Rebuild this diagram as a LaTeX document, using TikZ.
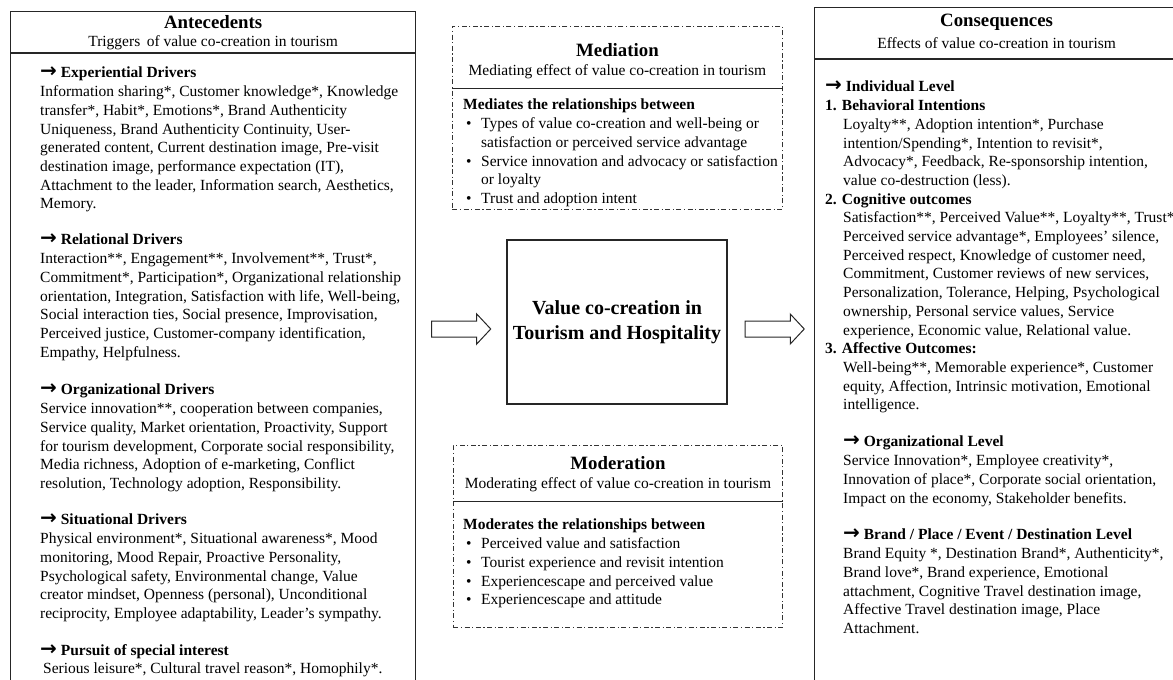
\documentclass[tikz,border=0pt]{standalone}
\usepackage{fontspec}
\setmainfont{Liberation Serif}
\newfontfamily\arrowfont{DejaVu Sans}
\usetikzlibrary{shapes.arrows, positioning}

\newcommand{\hdarrow}{{\arrowfont\bfseries\fontsize{20}{18.7}\selectfont →}}
\newcommand{\bulitem}{\makebox[18pt][l]{\hspace{3pt}•}}
\newcommand{\indentb}{\hspace*{18pt}}
\newcommand{\indentln}{\hspace*{18pt}}

\begin{document}
\begin{tikzpicture}[x=1pt, y=-1pt,
    panel/.style={draw=black!85, line width=1.2pt, inner sep=0, anchor=north west},
    divider/.style={draw=black!85, line width=1.2pt},
    effect/.style={draw=black!80, line width=0.9pt, dash pattern=on 5pt off 2.5pt on 1.2pt off 2.5pt, inner sep=0, anchor=north west},
    ttl/.style={font=\fontsize{18.8}{21}\selectfont\bfseries, inner sep=0},
    subttl/.style={font=\fontsize{15.5}{18.7}\selectfont, inner sep=0},
    txt/.style={font=\fontsize{15.5}{18.7}\selectfont, align=left, anchor=north west, inner sep=0},
    core/.style={draw=black!85, line width=1.2pt, minimum width=220pt, minimum height=164pt, align=center, font=\fontsize{20}{25}\selectfont\bfseries},
    bigarrow/.style={single arrow, draw=black!85, line width=1pt, single arrow head extend=7pt, single arrow tip angle=94, single arrow head indent=0pt, minimum height=59pt, inner xsep=0pt, inner ysep=7.5pt, text height=0pt, text depth=0pt}]

\useasboundingbox (0,0) rectangle (1173,680);
\clip (0,0) rectangle (1173,680);

% Left panel: antecedents
\node[panel, minimum width=405pt, minimum height=700pt] (ante) at (10,11) {};
\node[ttl] (ante-t) at ([yshift=-11pt]ante.north) {Antecedents};
\node[subttl] (ante-s) at ([yshift=-32pt]ante.north) {Triggers\, of value co-creation in tourism};
\draw[divider] ([yshift=-42pt]ante.north west) -- ([yshift=-42pt]ante.north east);

\node[txt] (exp) at (40,67) {\textbf{\hdarrow\ Experiential Drivers}\\
Information sharing*, Customer knowledge*, Knowledge\\
transfer*, Habit*, Emotions*, Brand Authenticity\\
Uniqueness, Brand Authenticity Continuity, User-\\
generated content, Current destination image, Pre-visit\\
destination image, performance expectation (IT),\\
Attachment to the leader, Information search, Aesthetics,\\
Memory.};

\node[txt] (rel) at (40,234) {\textbf{\hdarrow\ Relational Drivers}\\
Interaction**, Engagement**, Involvement**, Trust*,\\
Commitment*, Participation*, Organizational relationship\\
orientation, Integration, Satisfaction with life, Well-being,\\
Social interaction ties, Social presence, Improvisation,\\
Perceived justice, Customer-company identification,\\
Empathy, Helpfulness.};

\node[txt] (org) at (40,384) {\textbf{\hdarrow\ Organizational Drivers}\\
Service innovation**, cooperation between companies,\\
Service quality, Market orientation, Proactivity, Support\\
for tourism development, Corporate social responsibility,\\
Media richness, Adoption of e-marketing, Conflict\\
resolution, Technology adoption, Responsibility.};

\node[txt] (sit) at (40,514) {\textbf{\hdarrow\ Situational Drivers}\\
Physical environment*, Situational awareness*, Mood\\
monitoring, Mood Repair, Proactive Personality,\\
Psychological safety, Environmental change, Value\\
creator mindset, Openness (personal), Unconditional\\
reciprocity, Employee adaptability, Leader's sympathy.};

\node[txt] (pur) at (40,644) {\textbf{\hdarrow\ Pursuit of special interest}\\
\hspace*{3pt}Serious leisure*, Cultural travel reason*, Homophily*.};

% Middle: mediation, core, moderation
\node[effect, minimum width=330pt, minimum height=183pt] (medi) at (452,26) {};
\node[ttl] (medi-t) at ([yshift=-24pt]medi.north) {Mediation};
\node[subttl] (medi-s) at ([yshift=-46pt]medi.north) {Mediating effect of value co-creation in tourism};
\draw[divider, line width=1pt] ([yshift=-62pt]medi.north west) -- ([yshift=-62pt]medi.north east);
\node[txt] (medi-x) at (463,99) {\textbf{Mediates the relationships between}\\
\bulitem Types of value co-creation and well-being or\\
\indentb satisfaction or perceived service advantage\\
\bulitem Service innovation and advocacy or satisfaction\\
\indentb or loyalty\\
\bulitem Trust and adoption intent};

\node[core] (vcc) at (617,322) {Value co-creation in\\Tourism and Hospitality};

\node[effect, minimum width=329pt, minimum height=182pt] (moder) at (453,445) {};
\node[ttl] (moder-t) at ([yshift=-18pt]moder.north) {Moderation};
\node[subttl] (moder-s) at ([yshift=-40pt]moder.north) {Moderating effect of value co-creation in tourism};
\draw[divider, line width=1pt] ([yshift=-56pt]moder.north west) -- ([yshift=-56pt]moder.north east);
\node[txt] (moder-x) at (463,519) {\textbf{Moderates the relationships between}\\
\bulitem Perceived value and satisfaction\\
\bulitem Tourist experience and revisit intention\\
\bulitem Experiencescape and perceived value\\
\bulitem Experiencescape and attitude};

% Block arrows
\node[bigarrow] (arr-in) at (457.5,329) {};
\node[bigarrow] (arr-out) at (771,329) {};

% Right panel: consequences
\node[panel, minimum width=364pt, minimum height=700pt] (conseq) at (814,7) {};
\node[ttl] (conseq-t) at ([yshift=-15pt]conseq.north) {Consequences};
\node[subttl] (conseq-s) at ([yshift=-36pt]conseq.north) {Effects of value co-creation in tourism};
\draw[divider] ([yshift=-52pt]conseq.north west) -- ([yshift=-52pt]conseq.north east);

\node[txt] (ind) at (825,81) {\textbf{\hdarrow\ Individual Level}\\
\textbf{1. Behavioral Intentions}\\
\indentln Loyalty**, Adoption intention*, Purchase\\
\indentln intention/Spending*, Intention to revisit*,\\
\indentln Advocacy*, Feedback, Re-sponsorship intention,\\
\indentln value co-destruction (less).\\
\textbf{2. Cognitive outcomes}\\
\indentln Satisfaction**, Perceived Value**, Loyalty**, Trust*\\
\indentln Perceived service advantage*, Employees' silence,\\
\indentln Perceived respect, Knowledge of customer need,\\
\indentln Commitment, Customer reviews of new services,\\
\indentln Personalization, Tolerance, Helping, Psychological\\
\indentln ownership, Personal service values, Service\\
\indentln experience, Economic value, Relational value.\\
\textbf{3. Affective Outcomes:}\\
\indentln Well-being**, Memorable experience*, Customer\\
\indentln equity, Affection, Intrinsic motivation, Emotional\\
\indentln intelligence.};

\node[txt] (orgl) at (843,436) {\textbf{\hdarrow\ Organizational Level}\\
Service Innovation*, Employee creativity*,\\
Innovation of place*, Corporate social orientation,\\
Impact on the economy, Stakeholder benefits.};

\node[txt] (brand) at (843,529) {\textbf{\hdarrow\ Brand / Place / Event / Destination Level}\\
Brand Equity *, Destination Brand*, Authenticity*,\\
Brand love*, Brand experience, Emotional\\
attachment, Cognitive Travel destination image,\\
Affective Travel destination image, Place\\
Attachment.};

\end{tikzpicture}
\end{document}
